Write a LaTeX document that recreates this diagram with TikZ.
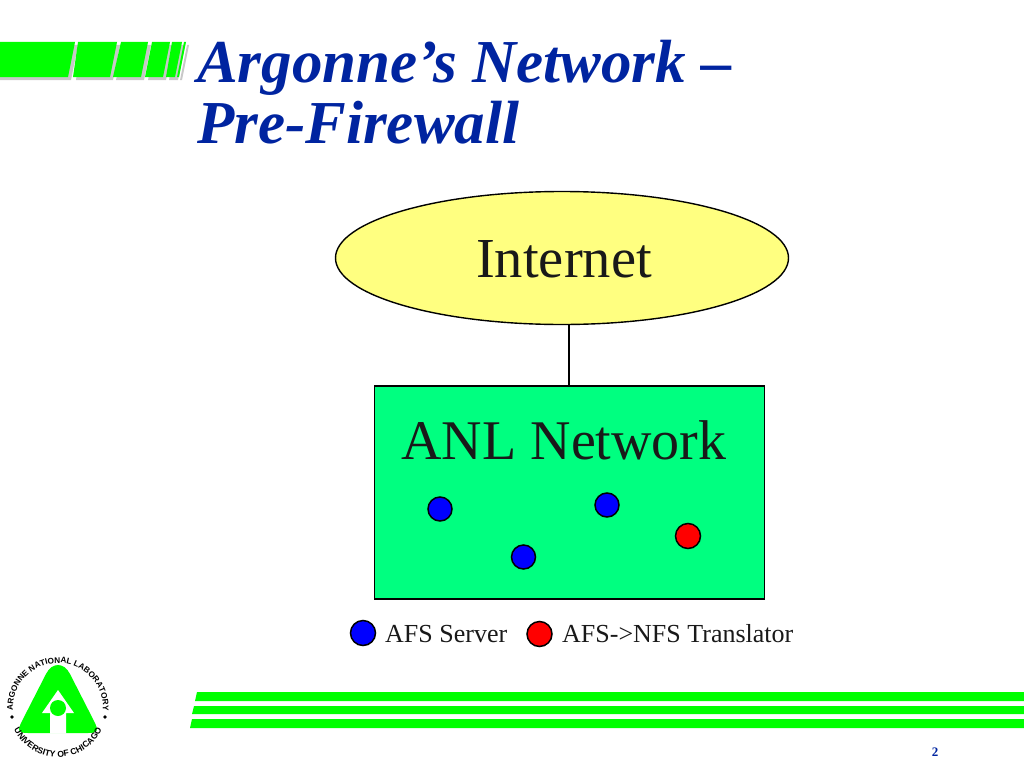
\documentclass[tikz,border=0pt]{standalone}
\usepackage{fontspec}
\setmainfont{Liberation Serif}
\newfontfamily\logofont{Liberation Sans}
\usetikzlibrary{decorations.text,shapes.geometric}
\definecolor{brightgreen}{RGB}{0,255,0}
\definecolor{netgreen}{RGB}{0,255,128}
\definecolor{inetyellow}{RGB}{255,255,128}
\definecolor{titleblue}{RGB}{0,36,160}
\definecolor{barshadow}{RGB}{200,200,200}
\tikzset{
  x=1pt,y=-1pt,
  titletext/.style={anchor=base west,inner sep=0pt,text=titleblue,font=\fontsize{61}{61}\selectfont\bfseries\itshape},
  dot/.style={draw=black,line width=1.5pt,inner sep=0pt,minimum size=24pt,circle},
  bar/.style={fill=brightgreen,draw=none},
  barsh/.style={fill=barshadow,draw=none},
  sketchtext/.style={inner sep=0pt,text=black!90},
}
\newcommand{\bard}[4]{%
  \fill[barsh] (#1+3,42+3) -- (#2+3,42+3) -- (#4+3,77+3) -- (#3+3,77+3) -- cycle;
  \fill[bar] (#1,42) -- (#2,42) -- (#4,77) -- (#3,77) -- cycle;}
\begin{document}
\begin{tikzpicture}
\useasboundingbox (0,0) rectangle (1024,768);
\bard{-5}{75}{-5}{68}
\bard{78}{117}{73}{110}
\bard{121}{148}{113}{141}
\bard{152}{170}{145}{163}
\bard{172}{182}{166}{175}
\bard{184}{186}{177}{179}
\node[titletext] (t1) at (197,82) {Argonne's Network –};
\node[titletext] (t2) at (197,143) {Pre-Firewall};
\node[draw=black,line width=1.4pt,fill=inetyellow,ellipse,minimum width=453pt,minimum height=133pt,inner sep=0pt] (inet) at (562,258) {};
\node[sketchtext,font=\fontsize{56.5}{56.5}\selectfont] (inetl) at (564,259) {Internet};
\node[draw=black,line width=1.5pt,fill=netgreen,minimum width=390pt,minimum height=213pt,inner sep=0pt] (anl) at (569.5,492.5) {};
\draw[black,line width=1.2pt] (inet.south) ++(7,0) coordinate (c1) -- (c1 |- anl.north);
\node[sketchtext,font=\fontsize{56}{56}\selectfont] (anll) at (564,440) {ANL Network};
\node[dot,fill=blue] (s1) at (440,509) {};
\node[dot,fill=blue] (s2) at (607,505) {};
\node[dot,fill=blue] (s3) at (523.5,557) {};
\node[dot,fill=red,minimum size=25pt] (s4) at (688,536) {};
\node[dot,fill=blue,minimum size=25pt] (l1) at (363,633) {};
\node[dot,fill=red,minimum size=25pt] (l2) at (539.5,634) {};
\node[sketchtext,anchor=west,font=\fontsize{26}{26}\selectfont] (l1t) at (385,634) {AFS Server};
\node[sketchtext,anchor=west,font=\fontsize{26}{26}\selectfont] (l2t) at (562,634) {AFS->NFS Translator};
% bottom rules
\fill[bar] (197,692) -- (1024,692) -- (1024,701) -- (195,701) -- cycle;
\fill[bar] (194,706) -- (1024,706) -- (1024,714) -- (192,714) -- cycle;
\fill[bar] (192,719) -- (1024,719) -- (1024,728) -- (190,728) -- cycle;
% logo
\fill[bar] (70,674) -- (94,721) .. controls (99,731) and (98,733) .. (88,733) -- (28,733) .. controls (18,733) and (17,731) .. (22,721) -- (46,674) .. controls (52,662) and (64,662) .. (70,674) -- cycle;
\fill[white] (58,690) -- (74,713) -- (66,713) -- (66,733.5) -- (50,733.5) -- (50,713) -- (42,713) -- cycle;
\fill[bar] (58,708) circle (8);
\path[postaction={decorate,decoration={text along path,text align=center,text={|\logofont\bfseries\fontsize{8.2}{8.2}\selectfont|ARGONNE NATIONAL LABORATORY}}}] (58,708) ++(200:45pt) arc[start angle=200,end angle=-20,x radius=45pt,y radius=45pt];
\path[postaction={decorate,decoration={text along path,text align=center,text={|\logofont\bfseries\fontsize{8.6}{8.6}\selectfont|UNIVERSITY OF CHICAGO}}}] (58,708) ++(190:49pt) arc[start angle=190,end angle=350,x radius=49pt,y radius=49pt];
\fill (12,717) circle (1.8);
\fill (105,717) circle (1.8);
\node[text=titleblue,font=\fontsize{13}{13}\selectfont\bfseries,inner sep=0pt] (pg) at (935,752) {2};
\end{tikzpicture}
\end{document}
